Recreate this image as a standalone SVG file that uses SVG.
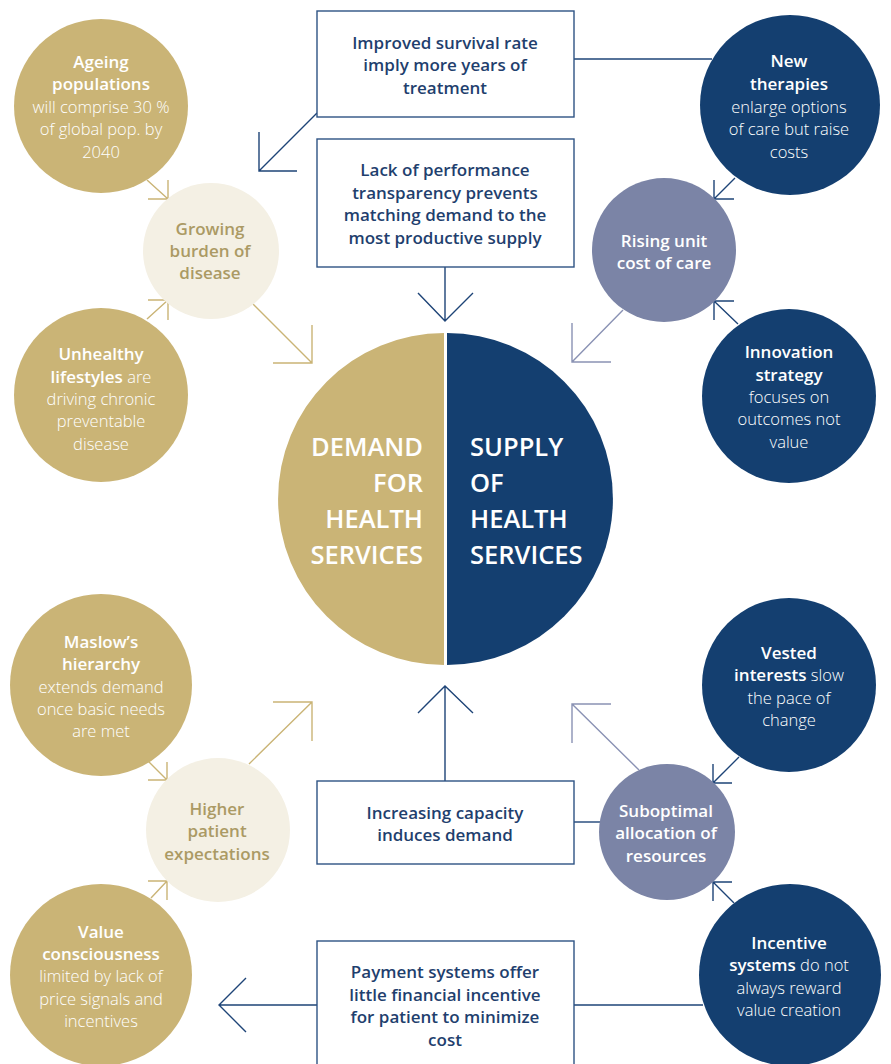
<svg xmlns="http://www.w3.org/2000/svg" width="891" height="1064" viewBox="0 0 891 1064">
<style>
text{font-family:"Open Sans","Noto Sans","Liberation Sans",sans-serif;font-size:16.5px;text-anchor:middle}
.w{fill:#ffffff}
.b{font-weight:600;font-size:17px}
.l{font-weight:300;font-size:16.5px}
.bx{fill:#1f3f6e;font-weight:600;font-size:17px}
.cr{fill:#ab9a64;font-weight:600;font-size:17px}
.big{font-family:"Open Sans","Noto Sans","Liberation Sans",sans-serif;font-weight:600;font-size:25.5px;fill:#ffffff}
.gold{fill:#cab476}
.navy{fill:#143f70}
.lil{fill:#7b84a6}
.cream{fill:#f4f0e4}
.box{fill:#ffffff;stroke:#2e5384;stroke-width:1.4}
.cn{fill:none;stroke:#1e4477;stroke-width:1.4}
.cg{fill:none;stroke:#cab476;stroke-width:1.4}
.cl{fill:none;stroke:#8a92b4;stroke-width:1.4}
</style>
<g id="connectors">
<path class="cn" d="M317,113 L259,171 M259,132 L259,171 L297,171"/>
<path class="cn" d="M574,59 L712,59"/>
<path class="cn" d="M445,267 L445,321 M418,293 L445,321 L473,293"/>
<path class="cn" d="M735,178 L714,199 M714,180 L714,199 L734,199"/>
<path class="cn" d="M738,324 L714,301 M714,320 L714,301 L734,301"/>
<path class="cl" d="M623,310 L572,362 M572,323 L572,362 L611,362"/>
<path class="cg" d="M147,180 L168,199 M168,180 L168,199 L148,199"/>
<path class="cg" d="M147,319 L168,300 M148,300 L168,300 L168,320"/>
<path class="cg" d="M253,304 L312,363 M312,325 L312,363 L273,363"/>
<path class="cg" d="M149,762 L167,780 M167,762 L167,780 L148,780"/>
<path class="cg" d="M151,898 L167,881 M148,881 L167,881 L167,900"/>
<path class="cg" d="M249,764 L312,702 M273,702 L312,702 L312,741"/>
<path class="cn" d="M445,781 L445,686 M418,713 L445,686 L473,713"/>
<path class="cn" d="M574,822 L600,822"/>
<path class="cl" d="M639,770 L572,704 M611,704 L572,704 L572,743"/>
<path class="cn" d="M739,757 L713,783 M713,764 L713,783 L732,783"/>
<path class="cn" d="M734,903 L713,882 M732,882 L713,882 L713,901"/>
<path class="cn" d="M574,1005 L703,1005"/>
<path class="cn" d="M317,1005 L219,1005 M246,978 L219,1005 L246,1032"/>
</g>
<g id="center">
<path class="gold" d="M444,333 A166,166 0 0 0 444,665 Z"/>
<path class="navy" d="M447,333 A166,166 0 0 1 447,665 Z"/>
<text class="big" x="423" y="456" style="text-anchor:end">DEMAND</text>
<text class="big" x="423" y="492" style="text-anchor:end">FOR</text>
<text class="big" x="423" y="528" style="text-anchor:end">HEALTH</text>
<text class="big" x="423" y="564" style="text-anchor:end">SERVICES</text>
<text class="big" x="470" y="456" style="text-anchor:start">SUPPLY</text>
<text class="big" x="470" y="492" style="text-anchor:start">OF</text>
<text class="big" x="470" y="528" style="text-anchor:start">HEALTH</text>
<text class="big" x="470" y="564" style="text-anchor:start">SERVICES</text>
</g>
<g id="ageing">
<circle class="gold" cx="101" cy="106" r="87"/>
<text class="w"><tspan class="b" x="101" y="68">Ageing</tspan><tspan class="b" x="101" y="90">populations</tspan><tspan class="l" x="101" y="113">will comprise 30 %</tspan><tspan class="l" x="101" y="135">of global pop. by</tspan><tspan class="l" x="101" y="158">2040</tspan></text>
</g>
<g id="growing">
<circle class="cream" cx="211" cy="251" r="68"/>
<text class="cr"><tspan x="210" y="235">Growing</tspan><tspan x="210" y="257">burden of</tspan><tspan x="210" y="279">disease</tspan></text>
</g>
<g id="unhealthy">
<circle class="gold" cx="101" cy="395" r="87"/>
<text class="w"><tspan class="b" x="101" y="360">Unhealthy</tspan><tspan x="101" y="383"><tspan class="b">lifestyles</tspan><tspan class="l"> are</tspan></tspan><tspan class="l" x="101" y="405">driving chronic</tspan><tspan class="l" x="101" y="427">preventable</tspan><tspan class="l" x="101" y="450">disease</tspan></text>
</g>
<g id="box-survival">
<rect class="box" x="317" y="11" width="257" height="106"/>
<text class="bx"><tspan x="445" y="49">Improved survival rate</tspan><tspan x="445" y="71">imply more years of</tspan><tspan x="445" y="94">treatment</tspan></text>
</g>
<g id="box-transparency">
<rect class="box" x="317" y="139" width="257" height="128"/>
<text class="bx"><tspan x="445" y="176">Lack of performance</tspan><tspan x="445" y="199">transparency prevents</tspan><tspan x="445" y="221">matching demand to the</tspan><tspan x="445" y="244">most productive supply</tspan></text>
</g>
<g id="new-therapies">
<circle class="navy" cx="790" cy="105" r="90"/>
<text class="w"><tspan class="b" x="789" y="67">New</tspan><tspan class="b" x="789" y="90">therapies</tspan><tspan class="l" x="789" y="113">enlarge options</tspan><tspan class="l" x="789" y="135">of care but raise</tspan><tspan class="l" x="789" y="158">costs</tspan></text>
</g>
<g id="rising">
<circle class="lil" cx="664" cy="250" r="72"/>
<text class="w b"><tspan x="664" y="247">Rising unit</tspan><tspan x="664" y="269">cost of care</tspan></text>
</g>
<g id="innovation">
<circle class="navy" cx="789" cy="396" r="87"/>
<text class="w"><tspan class="b" x="789" y="358">Innovation</tspan><tspan class="b" x="789" y="381">strategy</tspan><tspan class="l" x="789" y="403">focuses on</tspan><tspan class="l" x="789" y="425">outcomes not</tspan><tspan class="l" x="789" y="448">value</tspan></text>
</g>
<g id="maslow">
<circle class="gold" cx="101" cy="685" r="91"/>
<text class="w"><tspan class="b" x="101" y="648">Maslow’s</tspan><tspan class="b" x="101" y="670">hierarchy</tspan><tspan class="l" x="101" y="693">extends demand</tspan><tspan class="l" x="101" y="715">once basic needs</tspan><tspan class="l" x="101" y="737">are met</tspan></text>
</g>
<g id="higher">
<circle class="cream" cx="218" cy="830" r="72"/>
<text class="cr"><tspan x="217" y="815">Higher</tspan><tspan x="217" y="837">patient</tspan><tspan x="217" y="860">expectations</tspan></text>
</g>
<g id="value">
<circle class="gold" cx="101" cy="975" r="91"/>
<text class="w"><tspan class="b" x="101" y="938">Value</tspan><tspan class="b" x="101" y="960">consciousness</tspan><tspan class="l" x="101" y="982">limited by lack of</tspan><tspan class="l" x="101" y="1005">price signals and</tspan><tspan class="l" x="101" y="1027">incentives</tspan></text>
</g>
<g id="box-capacity">
<rect class="box" x="317" y="781" width="257" height="83"/>
<text class="bx"><tspan x="445" y="819">Increasing capacity</tspan><tspan x="445" y="841">induces demand</tspan></text>
</g>
<g id="suboptimal">
<circle class="lil" cx="667" cy="832" r="68"/>
<text class="w b"><tspan x="666" y="817">Suboptimal</tspan><tspan x="666" y="839">allocation of</tspan><tspan x="666" y="862">resources</tspan></text>
</g>
<g id="vested">
<circle class="navy" cx="789" cy="685" r="87"/>
<text class="w"><tspan class="b" x="789" y="659">Vested</tspan><tspan x="789" y="681"><tspan class="b">interests</tspan><tspan class="l"> slow</tspan></tspan><tspan class="l" x="789" y="704">the pace of</tspan><tspan class="l" x="789" y="726">change</tspan></text>
</g>
<g id="incentive">
<circle class="navy" cx="790" cy="975" r="91"/>
<text class="w"><tspan class="b" x="789" y="949">Incentive</tspan><tspan x="789" y="971"><tspan class="b">systems</tspan><tspan class="l"> do not</tspan></tspan><tspan class="l" x="789" y="994">always reward</tspan><tspan class="l" x="789" y="1016">value creation</tspan></text>
</g>
<g id="box-payment">
<rect class="box" x="317" y="941" width="257" height="140"/>
<text class="bx"><tspan x="445" y="978">Payment systems offer</tspan><tspan x="445" y="1001">little financial incentive</tspan><tspan x="445" y="1023">for patient to minimize</tspan><tspan x="445" y="1046">cost</tspan></text>
</g>
</svg>
